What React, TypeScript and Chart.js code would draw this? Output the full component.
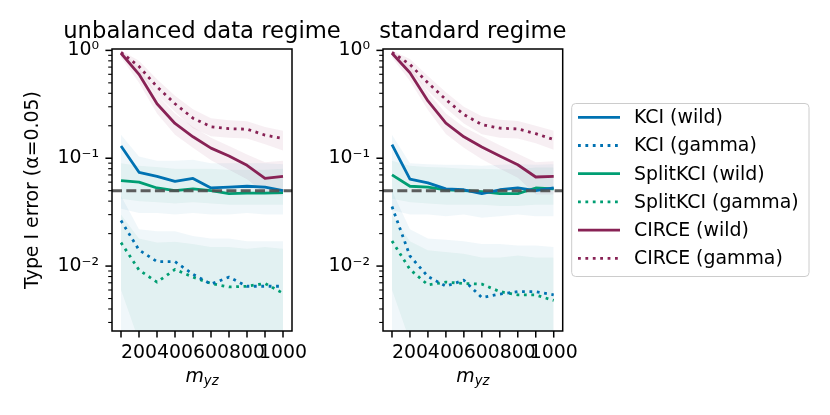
import { useEffect, useRef } from "react";
import { Chart, registerables } from "chart.js";

// everything the two panels need
Chart.register(...registerables);

const FONT = "DejaVu Sans";
const FS = 18.9;

// x positions (m_yz) and which ticks get a label
const mYz = [100, 200, 300, 400, 500, 600, 700, 800, 900, 1000];
const xLabelled = [200, 400, 600, 800, 1000];
const xMin = 50;
const xMax = 1050;

// log y axis
const yMin = 0.0025;
const yMax = 1.03;
const yDecades = [0.001, 0.01, 0.1, 1];
const yMinorSteps = [2, 3, 4, 5, 6, 7, 8, 9];
const yTickValues = [0.01, 0.1, 1];
const yTickLabels = ["10⁻²", "10⁻¹", "10⁰"];

const alphaLevel = 0.05;

const panelTitles = ["unbalanced data regime", "standard regime"];
const seriesLabels = [
    "KCI (wild)",
    "KCI (gamma)",
    "SplitKCI (wild)",
    "SplitKCI (gamma)",
    "CIRCE (wild)",
    "CIRCE (gamma)",
];

// ---- unbalanced data regime ----
const unbKciWild = [0.13, 0.074, 0.068, 0.061, 0.065, 0.053, 0.054, 0.055, 0.054, 0.05];
const unbKciWildHi = [0.165, 0.104, 0.095, 0.095, 0.097, 0.09, 0.09, 0.09, 0.09, 0.088];
const unbKciWildLo = [0.034, 0.031, 0.031, 0.03, 0.031, 0.03, 0.03, 0.031, 0.03, 0.03];
const unbKciGamma = [0.0264, 0.0141, 0.011, 0.011, 0.0084, 0.0068, 0.0079, 0.0065, 0.0065, 0.0065];
const unbKciGammaHi = [0.045, 0.022, 0.021, 0.021, 0.019, 0.018, 0.018, 0.017, 0.017, 0.017];
const unbKciGammaLo = [0.0005, 0.0005, 0.0005, 0.0005, 0.0005, 0.0005, 0.0005, 0.0005, 0.0005, 0.0005];
const unbSplitWild = [0.062, 0.06, 0.053, 0.05, 0.052, 0.05, 0.047, 0.0475, 0.0475, 0.048];
const unbSplitWildHi = [0.09, 0.085, 0.083, 0.08, 0.08, 0.08, 0.078, 0.078, 0.078, 0.08];
const unbSplitWildLo = [0.042, 0.04, 0.039, 0.038, 0.039, 0.038, 0.037, 0.037, 0.037, 0.037];
const unbSplitGamma = [0.0165, 0.0092, 0.0071, 0.0093, 0.0079, 0.0069, 0.0064, 0.0065, 0.0069, 0.0056];
const unbSplitGammaHi = [0.03, 0.018, 0.0165, 0.0168, 0.016, 0.015, 0.015, 0.0145, 0.015, 0.0145];
const unbSplitGammaLo = [0.006, 0.002, 0.0005, 0.0005, 0.0005, 0.0005, 0.0005, 0.0005, 0.0005, 0.0005];
const unbCirceWild = [0.94, 0.6, 0.32, 0.21, 0.158, 0.124, 0.105, 0.086, 0.065, 0.068];
const unbCirceWildHi = [1.0, 0.7, 0.39, 0.26, 0.195, 0.155, 0.13, 0.108, 0.092, 0.095];
const unbCirceWildLo = [0.86, 0.5, 0.26, 0.165, 0.125, 0.096, 0.078, 0.064, 0.047, 0.045];
const unbCirceGamma = [0.96, 0.71, 0.46, 0.32, 0.235, 0.196, 0.188, 0.186, 0.164, 0.152];
const unbCirceGammaHi = [1.0, 0.8, 0.54, 0.38, 0.285, 0.235, 0.225, 0.22, 0.195, 0.18];
const unbCirceGammaLo = [0.92, 0.62, 0.39, 0.27, 0.19, 0.16, 0.155, 0.152, 0.135, 0.118];

// ---- standard regime ----
const stdKciWild = [0.134, 0.064, 0.059, 0.052, 0.051, 0.047, 0.051, 0.053, 0.05, 0.053];
const stdKciWildHi = [0.165, 0.09, 0.088, 0.087, 0.087, 0.085, 0.087, 0.088, 0.087, 0.088];
const stdKciWildLo = [0.033, 0.03, 0.03, 0.029, 0.03, 0.028, 0.029, 0.03, 0.029, 0.029];
const stdKciGamma = [0.0356, 0.0124, 0.008, 0.0065, 0.0074, 0.0051, 0.0055, 0.0058, 0.0058, 0.0054];
const stdKciGammaHi = [0.05, 0.022, 0.018, 0.0175, 0.017, 0.016, 0.016, 0.0155, 0.0155, 0.015];
const stdKciGammaLo = [0.0005, 0.0005, 0.0005, 0.0005, 0.0005, 0.0005, 0.0005, 0.0005, 0.0005, 0.0005];
const stdSplitWild = [0.07, 0.055, 0.054, 0.051, 0.05, 0.049, 0.047, 0.047, 0.053, 0.052];
const stdSplitWildHi = [0.095, 0.085, 0.083, 0.082, 0.08, 0.08, 0.079, 0.079, 0.082, 0.082];
const stdSplitWildLo = [0.042, 0.039, 0.038, 0.037, 0.037, 0.037, 0.036, 0.036, 0.037, 0.037];
const stdSplitGamma = [0.0171, 0.0093, 0.0067, 0.0071, 0.0069, 0.0068, 0.0058, 0.0054, 0.0054, 0.0048];
const stdSplitGammaHi = [0.03, 0.017, 0.014, 0.0135, 0.013, 0.012, 0.012, 0.0125, 0.012, 0.012];
const stdSplitGammaLo = [0.006, 0.002, 0.0005, 0.0005, 0.0005, 0.0005, 0.0005, 0.0005, 0.0005, 0.0005];
const stdCirceWild = [0.94, 0.62, 0.34, 0.212, 0.158, 0.127, 0.105, 0.087, 0.067, 0.068];
const stdCirceWildHi = [1.0, 0.72, 0.41, 0.26, 0.195, 0.16, 0.132, 0.11, 0.092, 0.094];
const stdCirceWildLo = [0.86, 0.52, 0.28, 0.168, 0.125, 0.098, 0.08, 0.066, 0.046, 0.046];
const stdCirceGamma = [0.96, 0.74, 0.5, 0.35, 0.254, 0.205, 0.19, 0.187, 0.169, 0.149];
const stdCirceGammaHi = [1.0, 0.83, 0.58, 0.41, 0.3, 0.245, 0.228, 0.222, 0.2, 0.18];
const stdCirceGammaLo = [0.92, 0.65, 0.42, 0.29, 0.21, 0.167, 0.155, 0.152, 0.138, 0.12];

// styles
const seriesColors = ["#0072B2", "#0072B2", "#009E73", "#009E73", "#882255", "#882255"];
const bandColors = [
    "rgba(0,114,178,0.06)",
    "rgba(0,114,178,0.06)",
    "rgba(0,158,115,0.06)",
    "rgba(0,158,115,0.06)",
    "rgba(136,34,85,0.07)",
    "rgba(136,34,85,0.07)",
];
const seriesDotted = [false, true, false, true, false, true];
const DOTS = [2.8, 4.6];

const yAllTicks = yDecades
    .flatMap(d => [d, ...yMinorSteps.map(s => d * s)])
    .filter(v => v >= yMin && v <= yMax);

// frame + matplotlib-like ticks
const framePlugin = {
    id: "frame",
    afterDraw(chart) {
        const { ctx, chartArea: ca, scales } = chart;
        ctx.save();
        ctx.strokeStyle = "#000";
        ctx.lineCap = "butt";
        ctx.lineWidth = 1.5;
        mYz.forEach(v => {
            const px = scales.x.getPixelForValue(v);
            ctx.beginPath();
            ctx.moveTo(px, ca.bottom);
            ctx.lineTo(px, ca.bottom + 6.6);
            ctx.stroke();
        });
        yAllTicks.forEach(v => {
            const py = scales.y.getPixelForValue(v);
            const major = yTickValues.includes(v);
            ctx.lineWidth = major ? 1.5 : 1.1;
            ctx.beginPath();
            ctx.moveTo(ca.left - (major ? 6.6 : 3.8), py);
            ctx.lineTo(ca.left, py);
            ctx.stroke();
        });
        ctx.lineWidth = 1.5;
        ctx.strokeRect(ca.left, ca.top, ca.right - ca.left, ca.bottom - ca.top);
        ctx.restore();
    },
};

// panel title centred on the axes, and x label m_yz with a subscript
const textPlugin = {
    id: "paneltext",
    afterDraw(chart, _args, opts) {
        const { ctx, chartArea: ca } = chart;
        const cx = (ca.left + ca.right) / 2;
        ctx.save();
        ctx.fillStyle = "#000";
        ctx.textBaseline = "alphabetic";
        ctx.textAlign = "center";
        ctx.font = `22.7px "${FONT}"`;
        ctx.fillText(opts.title, cx, ca.top - 11.3);

        ctx.textAlign = "left";
        ctx.font = `italic ${FS}px "${FONT}"`;
        const wm = ctx.measureText("m").width;
        ctx.font = `italic 13.2px "${FONT}"`;
        const ws = ctx.measureText("yz").width;
        const x0 = cx - (wm + ws) / 2;
        const base = ca.bottom + 50.5;
        ctx.font = `italic ${FS}px "${FONT}"`;
        ctx.fillText("m", x0, base);
        ctx.font = `italic 13.2px "${FONT}"`;
        ctx.fillText("yz", x0 + wm, base + 3);
        ctx.restore();
    },
};

// legend box to the right of the axes
const legendPlugin = {
    id: "boxlegend",
    afterDraw(chart) {
        const { ctx, chartArea: ca } = chart;
        const rowH = 28.2;
        const bw = 237.3;
        const bh = 173;
        const bx = ca.right + 9;
        const by = (ca.top + ca.bottom) / 2 - bh / 2;
        ctx.save();
        ctx.beginPath();
        ctx.roundRect(bx, by, bw, bh, 4);
        ctx.fillStyle = "rgba(255,255,255,0.8)";
        ctx.fill();
        ctx.strokeStyle = "#cccccc";
        ctx.lineWidth = 1;
        ctx.stroke();
        ctx.font = `${FS}px "${FONT}"`;
        ctx.textBaseline = "middle";
        ctx.textAlign = "left";
        seriesLabels.forEach((label, i) => {
            const ly = by + 13.8 + i * rowH;
            ctx.strokeStyle = seriesColors[i];
            ctx.lineWidth = 2.8;
            ctx.lineCap = "butt";
            ctx.setLineDash(seriesDotted[i] ? DOTS : []);
            ctx.beginPath();
            ctx.moveTo(bx + 6.3, ly);
            ctx.lineTo(bx + 48.3, ly);
            ctx.stroke();
            ctx.setLineDash([]);
            ctx.fillStyle = "#000";
            ctx.fillText(label, bx + 62.3, ly + 1);
        });
        ctx.restore();
    },
};

function buildDatasets(means, highs, lows) {
    const ds: any[] = [];
    ds.push({
        data: [{ x: xMin, y: alphaLevel }, { x: xMax, y: alphaLevel }],
        borderColor: "rgba(80,80,80,0.92)",
        borderWidth: 3,
        borderDash: [10, 4.3],
        pointRadius: 0,
        fill: false,
        order: -1,
    });
    seriesLabels.forEach((label, i) => {
        const hiIdx = ds.length;
        ds.push({
            data: mYz.map((x, j) => ({ x, y: highs[i][j] })),
            borderWidth: 0,
            pointRadius: 0,
            fill: false,
            order: 2,
        });
        ds.push({
            data: mYz.map((x, j) => ({ x, y: lows[i][j] })),
            borderWidth: 0,
            pointRadius: 0,
            fill: hiIdx,
            backgroundColor: bandColors[i],
            order: 2,
        });
        ds.push({
            label,
            data: mYz.map((x, j) => ({ x, y: means[i][j] })),
            borderColor: seriesColors[i],
            borderWidth: 2.8,
            borderDash: seriesDotted[i] ? DOTS : [],
            borderCapStyle: "butt",
            borderJoinStyle: "round",
            pointRadius: 0,
            fill: false,
            tension: 0,
            order: 1,
        });
    });
    return ds;
}

function Panel({ title, means, highs, lows, left, width, yWidth, padRight, yTitle, legend }) {
    const canvasRef = useRef(null);
    const chartRef = useRef(null);

    useEffect(() => {
        const plugins: any[] = [framePlugin, textPlugin];
        if (legend) plugins.push(legendPlugin);
        chartRef.current = new Chart(canvasRef.current, {
            type: "line",
            data: { datasets: buildDatasets(means, highs, lows) },
            plugins,
            options: {
                animation: false,
                responsive: false,
                maintainAspectRatio: false,
                layout: { padding: { left: 0, right: padRight, top: 49, bottom: 0 } },
                plugins: {
                    legend: { display: false },
                    tooltip: { enabled: false },
                    title: { display: false },
                    paneltext: { title },
                },
                scales: {
                    x: {
                        type: "linear",
                        min: xMin,
                        max: xMax,
                        afterBuildTicks: s => {
                            s.ticks = mYz.map(v => ({ value: v }));
                        },
                        afterFit: s => {
                            s.height = 84;
                        },
                        ticks: {
                            autoSkip: false,
                            maxRotation: 0,
                            padding: 5,
                            color: "#000",
                            font: { family: FONT, size: FS },
                            callback: v => (xLabelled.includes(v) ? String(v) : ""),
                        },
                        grid: { drawOnChartArea: false, tickLength: 6, color: "rgba(0,0,0,0)" },
                        border: { display: false },
                    },
                    y: {
                        type: "logarithmic",
                        min: yMin,
                        max: yMax,
                        afterBuildTicks: s => {
                            s.ticks = yAllTicks.map(v => ({ value: v }));
                        },
                        afterFit: s => {
                            s.width = yWidth;
                        },
                        ticks: {
                            autoSkip: false,
                            padding: 7,
                            color: "#000",
                            font: { family: FONT, size: FS },
                            callback: v => {
                                const k = yTickValues.indexOf(v);
                                return k >= 0 ? yTickLabels[k] : "";
                            },
                        },
                        grid: { drawOnChartArea: false, tickLength: 6, color: "rgba(0,0,0,0)" },
                        border: { display: false },
                        title: {
                            display: yTitle,
                            text: "Type I error (α=0.05)",
                            color: "#000",
                            font: { family: FONT, size: FS },
                            padding: { top: 21.5, bottom: 0 },
                        },
                    },
                },
            },
        });
        return () => chartRef.current?.destroy();
    }, []);

    return (
        <canvas
            ref={canvasRef}
            width={width}
            height={415}
            style={{ position: "absolute", left, top: 0, width, height: 415 }}
        />
    );
}

export default function App() {
    return (
        <div style={{ position: "absolute", left: 0, top: 0, width: 830, height: 415, background: "#fff" }}>
            <Panel
                title={panelTitles[0]}
                means={[unbKciWild, unbKciGamma, unbSplitWild, unbSplitGamma, unbCirceWild, unbCirceGamma]}
                highs={[unbKciWildHi, unbKciGammaHi, unbSplitWildHi, unbSplitGammaHi, unbCirceWildHi, unbCirceGammaHi]}
                lows={[unbKciWildLo, unbKciGammaLo, unbSplitWildLo, unbSplitGammaLo, unbCirceWildLo, unbCirceGammaLo]}
                left={0}
                width={380}
                yWidth={112}
                padRight={88}
                yTitle={true}
                legend={false}
            />
            <Panel
                title={panelTitles[1]}
                means={[stdKciWild, stdKciGamma, stdSplitWild, stdSplitGamma, stdCirceWild, stdCirceGamma]}
                highs={[stdKciWildHi, stdKciGammaHi, stdSplitWildHi, stdSplitGammaHi, stdCirceWildHi, stdCirceGammaHi]}
                lows={[stdKciWildLo, stdKciGammaLo, stdSplitWildLo, stdSplitGammaLo, stdCirceWildLo, stdCirceGammaLo]}
                left={320}
                width={510}
                yWidth={63}
                padRight={267.3}
                yTitle={false}
                legend={true}
            />
        </div>
    );
}
